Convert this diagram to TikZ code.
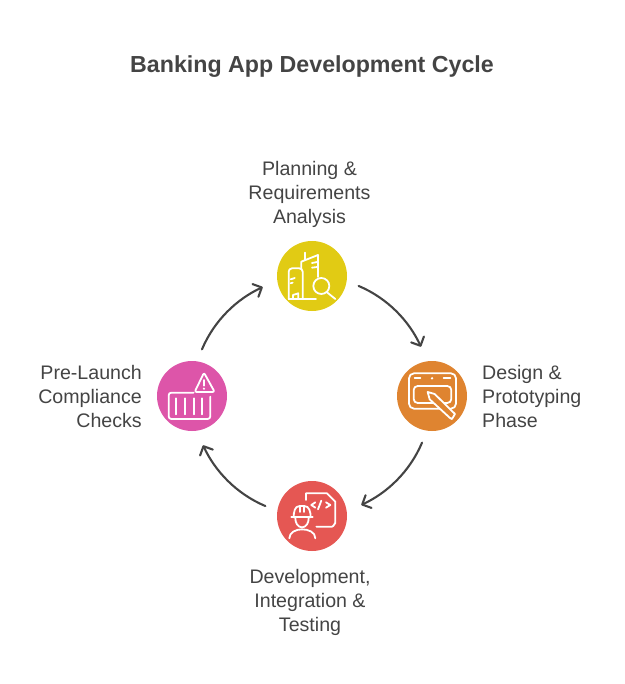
\documentclass[tikz,border=0pt]{standalone}
\usepackage{fontspec}
\setmainfont{Liberation Sans}
\usetikzlibrary{arrows.meta}
\definecolor{ink}{HTML}{444444}
\definecolor{plancol}{HTML}{E1CB14}
\definecolor{designcol}{HTML}{DF8430}
\definecolor{devcol}{HTML}{E55753}
\definecolor{checkcol}{HTML}{DD55A9}
\tikzset{
  stepdot/.style={circle,minimum size=70pt,inner sep=0pt,outer sep=0pt},
  steplabel/.style={text=ink,inner sep=0pt,font=\fontsize{19.6}{24}\selectfont},
  cyclearrow/.style={draw=ink,line width=2.1pt,line cap=round,shorten <=13pt,shorten >=16pt,-{Straight Barb[length=7pt,width=14pt,line width=2.1pt,round]}},
  iconline/.style={draw=white,line width=1.8pt,line cap=round,line join=round},
  iconarea/.style={x=0.3333pt,y=-0.3333pt}
}
\begin{document}
\begin{tikzpicture}[x=1pt,y=-1pt]
  \useasboundingbox (0,0) rectangle (624,684);
  \node[text=ink,inner sep=0pt,font=\fontsize{23.2}{28}\selectfont\bfseries] (title) at (312,67) {Banking App Development Cycle};

  \foreach \n/\x/\y/\c in {planning/312/276/plancol,design/432/396/designcol,development/312/516/devcol,compliance/192/396/checkcol} {
    \node[stepdot,fill=\c] (\n) at (\x,\y) {};
  }

  \node[steplabel,align=center] (planninglabel) at (309.5,194) {Planning \&\\Requirements\\Analysis};
  \node[steplabel,align=left,anchor=west] (designlabel) at (482,396.5) {Design \&\\Prototyping\\Phase};
  \node[steplabel,align=center] (developmentlabel) at (310,602) {Development,\\Integration \&\\Testing};
  \node[steplabel,align=right,anchor=east] (compliancelabel) at (142,396.5) {Pre-Launch\\Compliance\\Checks};

  \draw[cyclearrow] (compliance.82) to[out=67,in=205] (planning.187);
  \draw[cyclearrow] (planning.-8) to[out=-23,in=115] (design.97);
  \draw[cyclearrow] (design.262) to[out=-113,in=25] (development.7);
  \draw[cyclearrow] (development.172) to[out=157,in=295] (compliance.277);

  % planning icon
  \begin{scope}[shift={(262,230)},iconarea]
    \draw[iconline] (80,207) -- (80,125) to[out=90,in=180] (90,115) -- (112,115) to[out=0,in=90] (122,125) -- (122,207);
    \draw[iconline] (80,207) -- (162,207);
    \draw[iconline] (86,148) -- (98,144) (86,160) -- (92,158);
    \draw[iconline] (93,205) -- (93,195) -- (109,190) -- (109,205);
    \draw[iconline] (118,115) -- (118,95) -- (168,75) -- (168,141);
    \draw[iconline] (128,68) -- (128,90);
    \draw[iconline] (150,99) -- (166,96) (150,113) -- (166,111);
    \draw[iconline] (178,168) circle (24);
    \draw[iconline] (195,187) -- (220,207);
  \end{scope}

  % design icon
  \begin{scope}[shift={(382,350)},iconarea]
    \draw[iconline,rounded corners=5pt] (81,70) rectangle (222,176);
    \draw[iconline] (98,85) -- (115,85) (185,85) -- (205,85);
    \fill[white] (150,85) circle (4);
    \draw[iconline,rounded corners=4pt] (95,108) rectangle (208,159);
    \draw[iconline,fill=designcol] (137,126) -- (158,132) -- (219,192) -- (210,207) -- (204,204) -- (143,148) -- cycle;
  \end{scope}

  % development icon
  \begin{scope}[shift={(262,470)},iconarea]
    \draw[iconline] (132,90) -- (132,70) -- (195,70) -- (220,95) -- (220,160) to[out=90,in=0] (210,170) -- (163,170);
    \draw[iconline] (160,97) -- (148,105) -- (160,113);
    \draw[iconline] (168,118) -- (178,92);
    \draw[iconline] (192,97) -- (205,105) -- (192,113);
    \draw[iconline] (88,142) -- (152,142);
    \draw[iconline] (95,142) to[out=90,in=180] (113,108) -- (127,108) to[out=0,in=90] (146,142);
    \draw[iconline] (113,108) -- (113,126) (127,108) -- (127,126);
    \draw[iconline] (100,145) to[out=-90,in=180] (120,172) to[out=0,in=-90] (140,145);
    \draw[iconline] (82,205) to[out=90,in=180] (120,178) to[out=0,in=90] (160,205);
  \end{scope}

  % compliance icon
  \begin{scope}[shift={(142,350)},iconarea]
    \draw[iconline] (155,128) -- (88,128) to[out=180,in=90] (80,136) -- (80,199) to[out=-90,in=180] (88,207) -- (197,207) to[out=0,in=-90] (205,199) -- (205,140);
    \foreach \x in {103,128,155,180} {
      \draw[iconline] (\x,145) -- (\x,193);
    }
    \draw[iconline,rounded corners=2pt] (186,68) -- (158,126) -- (218,126) -- cycle;
    \draw[iconline] (186,90) -- (186,107);
    \fill[white] (186,116) circle (3.5);
  \end{scope}
\end{tikzpicture}
\end{document}
